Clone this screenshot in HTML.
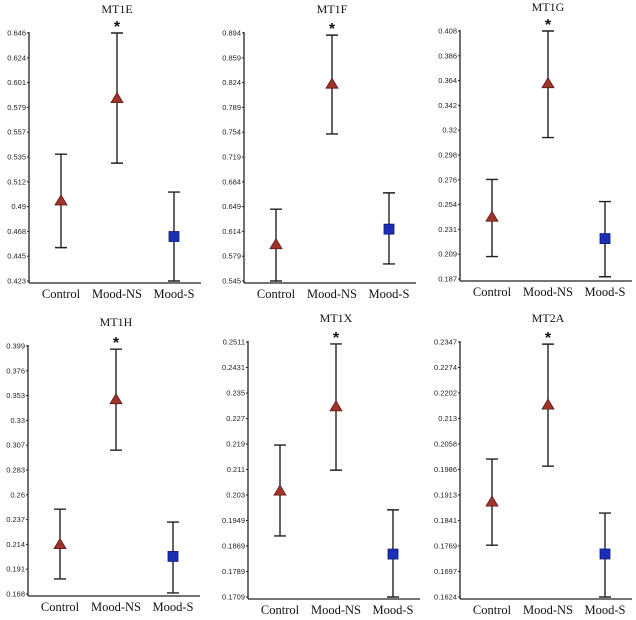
<!DOCTYPE html>
<html><head><meta charset="utf-8"><style>
html,body{margin:0;padding:0;background:#fff;}
svg{display:block;}
.tick{font-family:"Liberation Sans",Arial,sans-serif;font-size:7.5px;fill:#222;}
.cat{font-family:"Liberation Serif",serif;font-size:12.5px;fill:#111;}
.ttl{font-family:"Liberation Serif",serif;font-size:12px;fill:#111;}
</style></head><body>
<svg id="c" width="636" height="620" viewBox="0 0 636 620"></svg>
<script>
const titles = ["MT1E","MT1F","MT1G","MT1H","MT1X","MT2A"];
const categories = ["Control","Mood-NS","Mood-S"];
const tickLabels = [
 ["0.423","0.445","0.468","0.49","0.512","0.535","0.557","0.579","0.601","0.624","0.646"],
 ["0.545","0.579","0.614","0.649","0.684","0.719","0.754","0.789","0.824","0.859","0.894"],
 ["0.187","0.209","0.231","0.254","0.276","0.298","0.32","0.342","0.364","0.386","0.408"],
 ["0.168","0.191","0.214","0.237","0.26","0.283","0.307","0.33","0.353","0.376","0.399"],
 ["0.1709","0.1789","0.1869","0.1949","0.203","0.211","0.219","0.227","0.235","0.2431","0.2511"],
 ["0.1624","0.1697","0.1769","0.1841","0.1913","0.1986","0.2058","0.213","0.2202","0.2274","0.2347"]
];
const yMin = [0.423,0.545,0.187,0.168,0.1709,0.1624];
const yMax = [0.646,0.894,0.408,0.399,0.2511,0.2347];
const means = [
 [0.495,0.587,0.463],
 [0.596,0.822,0.618],
 [0.242,0.361,0.223],
 [0.214,0.349,0.203],
 [0.2042,0.2307,0.1844],
 [0.1893,0.2168,0.1746]
];
const upper = [
 [0.537,0.646,0.503],
 [0.646,0.891,0.669],
 [0.2757,0.408,0.256],
 [0.247,0.396,0.235],
 [0.2187,0.2505,0.1983],
 [0.2015,0.2341,0.1862]
];
const lower = [
 [0.453,0.529,0.423],
 [0.545,0.752,0.569],
 [0.207,0.313,0.189],
 [0.182,0.302,0.169],
 [0.1901,0.2108,0.1709],
 [0.1771,0.1995,0.1624]
];
const significant = [1,1,1,1,1,1];

const layout = [
 {ax:29,top:33,bot:281},{ax:244,top:33,bot:281},{ax:460,top:31,bot:279},
 {ax:28,top:346,bot:594},{ax:248,top:342,bot:597},{ax:460,top:342,bot:597}
];
const svg = document.getElementById('c');
const NS='http://www.w3.org/2000/svg';
function mk(tag, attrs, parent){
  const e=document.createElementNS(NS,tag);
  for(const k in attrs) e.setAttribute(k,attrs[k]);
  (parent||svg).appendChild(e); return e;
}
const SERIF='Liberation Serif, DejaVu Serif, serif';
for(let p=0;p<6;p++){
  const L=layout[p];
  const g=mk('g',{});
  
  
  const y=v=>L.bot-(v-yMin[p])/(yMax[p]-yMin[p])*(L.bot-L.top);
  const xs=[L.ax+32,L.ax+88,L.ax+145];
  const axisBottom=L.bot+2;
  const t=mk('text',{x:L.ax+88,y:L.top-20,'text-anchor':'middle','font-family':SERIF,'font-size':'12px',fill:'#111'},g);
  t.textContent=titles[p];
  
  
  const ya=mk('line',{x1:L.ax,y1:L.top-1,x2:L.ax,y2:axisBottom,stroke:'#222','stroke-width':1.3},g);
  
  
  const xa=mk('line',{x1:L.ax,y1:axisBottom,x2:L.ax+172,y2:axisBottom,stroke:'#222','stroke-width':1.3},g);
  
  
  for(let i=0;i<tickLabels[p].length;i++){
    const v=yMin[p]+(yMax[p]-yMin[p])*i/(tickLabels[p].length-1);
    const yy=y(v);
    mk('line',{x1:L.ax-2,y1:yy,x2:L.ax,y2:yy,stroke:'#222','stroke-width':1},g);
    const tl=mk('text',{x:L.ax-3,y:yy+2.5,'text-anchor':'end',class:'tick'},g);
    tl.textContent=tickLabels[p][i];
    
    
  }
  for(let c=0;c<3;c++){
    const cx=xs[c];
    const cl=mk('text',{x:cx,y:axisBottom+15,'text-anchor':'middle','font-family':SERIF,'font-size':'12.5px',fill:'#111'},g);
    cl.textContent=categories[c];
    
    
    const yu=y(upper[p][c]), yl=y(lower[p][c]), ym=y(means[p][c]);
    const eb=mk('path',{d:`M${cx},${yu}V${yl}M${cx-6},${yu}H${cx+6}M${cx-6},${yl}H${cx+6}`,stroke:'#222','stroke-width':1.4,fill:'none'},g);
    
    
    let m;
    if(c<2){
      m=mk('path',{d:`M${cx},${ym-6}L${cx+6},${ym+4}L${cx-6},${ym+4}Z`,fill:'#a2332b',stroke:'#5a1a14','stroke-width':0.8},g);
    } else {
      m=mk('rect',{x:cx-5,y:ym-5,width:10,height:10,fill:'#1a2fb5',stroke:'#0d1a70','stroke-width':0.8},g);
    }
    
    
    if(c===1 && significant[p]){
      const s=mk('text',{x:cx,y:yu-1,'text-anchor':'middle','font-family':'Liberation Sans,sans-serif','font-size':'16px','font-weight':'bold',fill:'#111'},g);
      s.textContent='*';
      
      
    }
  }
}
</script>
</body></html>
